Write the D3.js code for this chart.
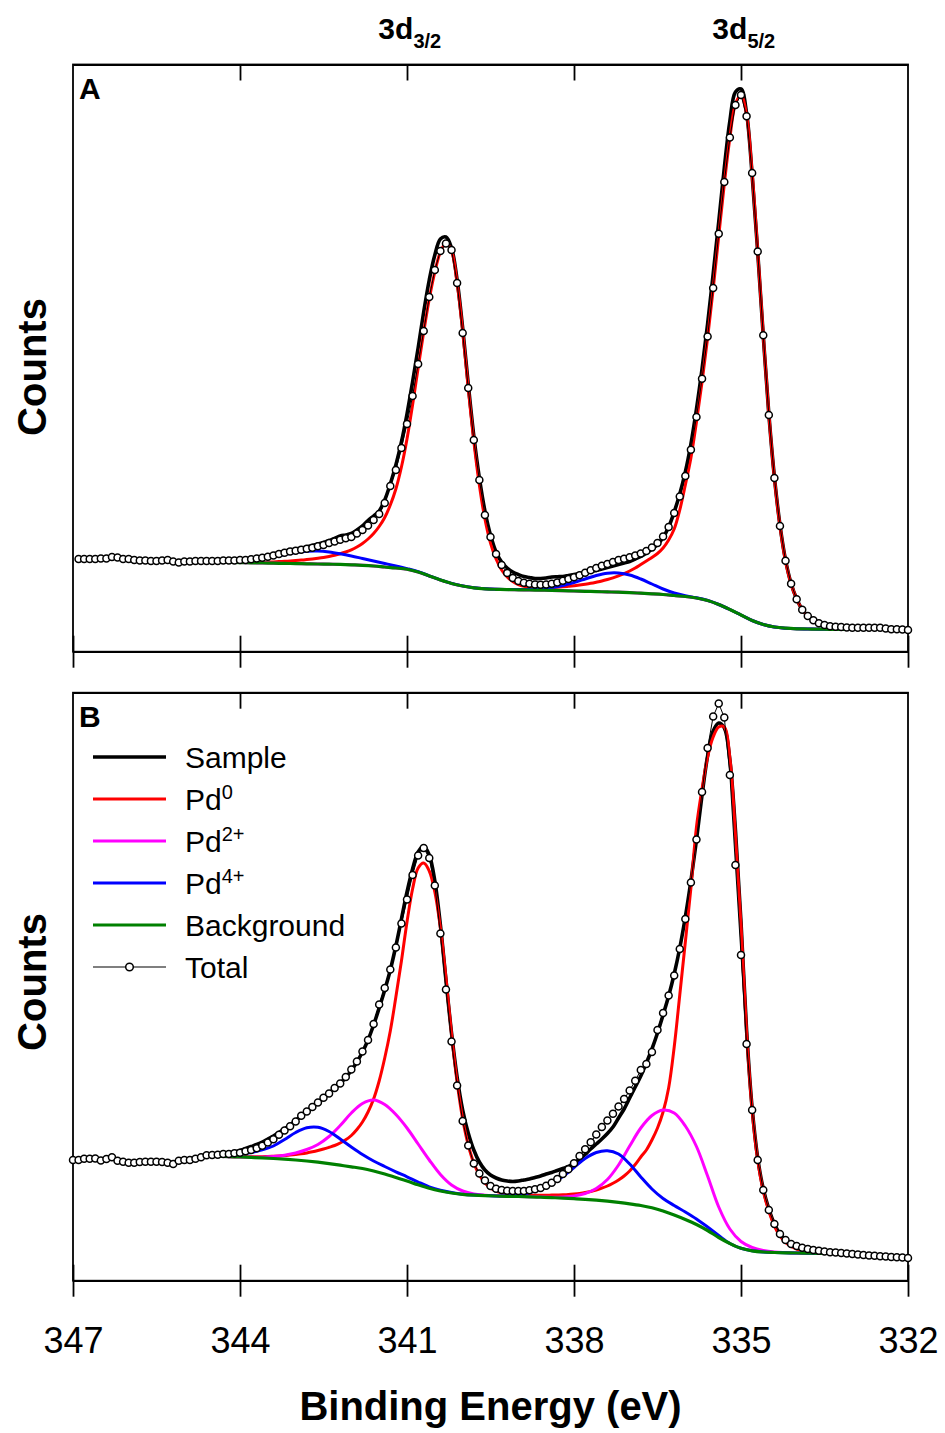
<!DOCTYPE html>
<html>
<head>
<meta charset="utf-8">
<script src="https://cdn.jsdelivr.net/npm/d3@7"></script>
<style>
body { margin: 0; background: #fff; }
svg { display: block; font-family: "Liberation Sans", Arial, sans-serif; }
</style>
</head>
<body>
<div id="chart"></div>
<script>
// binding energy grid of the scan (eV)
var energy = [
  347.0,346.9,346.8,346.7,346.6,346.5,346.4,346.3,346.2,346.1,
  346.0,345.9,345.8,345.7,345.6,345.5,345.4,345.3,345.2,345.1,
  345.0,344.9,344.8,344.7,344.6,344.5,344.4,344.3,344.2,344.1,
  344.0,343.9,343.8,343.7,343.6,343.5,343.4,343.3,343.2,343.1,
  343.0,342.9,342.8,342.7,342.6,342.5,342.4,342.3,342.2,342.1,
  342.0,341.9,341.8,341.7,341.6,341.5,341.4,341.3,341.2,341.1,
  341.0,340.9,340.8,340.7,340.6,340.5,340.4,340.3,340.2,340.1,
  340.0,339.9,339.8,339.7,339.6,339.5,339.4,339.3,339.2,339.1,
  339.0,338.9,338.8,338.7,338.6,338.5,338.4,338.3,338.2,338.1,
  338.0,337.9,337.8,337.7,337.6,337.5,337.4,337.3,337.2,337.1,
  337.0,336.9,336.8,336.7,336.6,336.5,336.4,336.3,336.2,336.1,
  336.0,335.9,335.8,335.7,335.6,335.5,335.4,335.3,335.2,335.1,
  335.0,334.9,334.8,334.7,334.6,334.5,334.4,334.3,334.2,334.1,
  334.0,333.9,333.8,333.7,333.6,333.5,333.4,333.3,333.2,333.1,
  333.0,332.9,332.8,332.7,332.6,332.5,332.4,332.3,332.2,332.1,
  332.0
];
// fitted window: 344.6 -> 333.0 eV, components at every second point
var energyFit = energy.filter(e => e <= 344.6 && e >= 333.0);
var energyCoarse = energyFit.filter((e, i) => i % 2 == 0);

var tickValues = [347, 344, 341, 338, 335, 332];
var innerTicks = [344, 341, 338, 335];
var yLimitsA = [483, 6355];
var yLimitsB = [193, 6073];

// ---- panel A (counts) ----
var totalA = [
  1410,1410,1410,1410,1415,1415,1430,1425,1410,
  1410,1400,1395,1395,1390,1390,1395,1400,1385,1375,
  1385,1385,1390,1390,1390,1390,1390,1395,1395,1395,
  1400,1400,1407,1415,1423,1432,1445,1460,1472,1485,
  1493,1503,1512,1522,1537,1550,1570,1585,1602,1617,
  1630,1665,1700,1745,1800,1860,1970,2140,2300,2520,
  2760,3040,3360,3690,4030,4300,4490,4565,4500,4170,
  3670,3120,2600,2200,1850,1630,1460,1350,1270,1220,
  1190,1173,1162,1155,1153,1155,1162,1175,1193,1210,
  1227,1247,1273,1297,1320,1342,1360,1380,1400,1413,
  1428,1444,1464,1490,1525,1570,1635,1730,1870,2035,
  2240,2502,2830,3212,3635,4120,4662,5180,5625,5950,
  6050,5837,5270,4485,3648,2850,2220,1740,1393,1162,
  1008,902,840,797,767,749,738,732,729,725,
  723,723,723,723,723,722,715,708,707,704,
  700
];
var sampleA = [
  1385,1385,1385,1385,1390,1395,
  1400,1405,1415,1425,1435,1445,1460,1475,1490,1500,
  1510,1520,1530,1545,1560,1575,1595,1615,1640,1650,
  1665,1700,1740,1795,1840,1890,2000,2160,2350,2580,
  2860,3180,3520,3880,4200,4450,4610,4630,4520,4200,
  3720,3160,2640,2220,1890,1650,1480,1380,1320,1280,
  1255,1235,1225,1215,1215,1220,1230,1233,1235,1245,
  1255,1265,1275,1285,1295,1310,1325,1340,1355,1370,
  1385,1410,1435,1470,1510,1555,1625,1730,1880,2060,
  2280,2560,2910,3310,3760,4260,4780,5320,5790,6080,
  6110,5870,5250,4480,3640,2860,2230,1750,1400,1165,
  1010,905,840,795,765,748,737,732,728,725,
  723
];
var pd0A = [
  1380,1379,1378,1377,1376,1375,
  1375,1375,1375,1376,1377,1379,1381,1384,1387,1390,
  1394,1399,1404,1410,1417,1425,1435,1447,1462,1480,
  1502,1530,1565,1610,1665,1735,1825,1950,2110,2330,
  2610,2950,3320,3680,4010,4280,4480,4570,4490,4170,
  3690,3120,2590,2150,1810,1570,1410,1300,1230,1185,
  1155,1137,1128,1123,1122,1123,1125,1128,1132,1137,
  1143,1150,1158,1167,1178,1190,1205,1222,1242,1265,
  1290,1320,1355,1390,1425,1465,1520,1600,1710,1900,
  2150,2420,2780,3180,3620,4110,4640,5160,5620,5960,
  6050,5850,5270,4490,3650,2860,2220,1740,1390,1160,
  1010,905,840,795,765,745,732,722,715,710,
  707
];
var pd4A = [
  1380,1378,1377,
  1380,1390,1410,1430,1455,1475,1488,1490,1480,1462,
  1440,1415,1390,1365,1340,1314,1284,1242,1201,1166,
  1141,1123,1113,1108,1106,1105,1105,1110,1125,1145,
  1175,1210,1245,1268,1270,1250,1210,1160,1110,1070,
  1042,1022,996,955,905,850,795,755,730,718,
  712,710,708,707,706,705
];
var bgA = [
  1380,1378,1376,
  1374,1372,1370,1368,1366,1364,1362,1360,1358,1356,
  1352,1347,1340,1330,1320,1307,1280,1240,1200,1165,
  1140,1122,1112,1107,1104,1102,1100,1098,1096,1093,
  1090,1087,1084,1081,1078,1074,1068,1062,1055,1045,
  1035,1020,995,955,905,850,795,755,730,718,
  712,710,708,707,706,705
];
// Pd2+ sits flat on the background in A
var pd2A = bgA;

// ---- panel B (counts) ----
var totalB = [
  1400,1400,1413,1413,1415,1395,1410,1427,1393,1383,
  1373,1373,1380,1383,1383,1383,1380,1373,1360,1393,
  1400,1400,1413,1427,1447,1450,1453,1460,1460,1467,
  1473,1487,1500,1518,1542,1575,1608,1652,1696,1738,
  1785,1842,1885,1930,1975,2022,2065,2120,2165,2230,
  2305,2385,2485,2600,2760,2955,3120,3305,3525,3765,
  4005,4250,4445,4520,4420,4145,3665,3105,2585,2145,
  1790,1545,1365,1265,1195,1140,1113,1100,1093,1090,
  1090,1090,1097,1107,1120,1143,1173,1210,1260,1307,
  1367,1440,1507,1577,1655,1730,1795,1863,1935,2010,
  2095,2193,2300,2360,2480,2700,2870,3045,3245,3510,
  3810,4175,4605,5080,5520,5835,5965,5825,5250,4350,
  3450,2560,1900,1400,1100,900,760,660,600,560,
  540,523,510,500,492,485,478,474,470,466,
  460,455,450,446,442,438,434,430,427,424,
  420
];
var sampleB = [
  1445,1450,1455,1460,1465,1480,
  1495,1515,1535,1555,1580,1610,1640,1675,1710,1750,
  1795,1840,1885,1930,1975,2020,2065,2115,2165,2225,
  2295,2380,2480,2600,2750,2920,3100,3300,3540,3810,
  4080,4310,4480,4540,4450,4190,3750,3200,2670,2230,
  1900,1670,1500,1380,1300,1250,1220,1200,1190,1185,
  1190,1200,1210,1225,1240,1260,1275,1295,1315,1335,
  1365,1405,1455,1510,1560,1610,1665,1730,1820,1910,
  2020,2130,2240,2370,2510,2670,2850,3040,3260,3520,
  3830,4190,4600,5050,5440,5690,5770,5720,5400,4700,
  3780,2700,1920,1420,1110,910,760,660,595,555,
  530,515,505,497,490,485,480,476,472,469,
  466
];
var pd0B = [
  1440,1438,1437,1435,1434,1433,
  1432,1432,1432,1432,1433,1435,1437,1440,1444,1449,
  1455,1462,1471,1482,1495,1510,1527,1545,1570,1602,
  1645,1705,1780,1880,2010,2190,2420,2690,3030,3390,
  3780,4110,4320,4370,4290,4080,3720,3220,2660,2180,
  1810,1550,1370,1250,1170,1120,1090,1073,1063,1056,
  1052,1050,1049,1048,1048,1048,1049,1050,1052,1055,
  1060,1066,1074,1085,1100,1118,1140,1168,1200,1240,
  1290,1355,1430,1500,1600,1720,1880,2120,2530,3050,
  3580,4120,4730,5110,5430,5630,5730,5730,5420,4650,
  3750,2680,1900,1400,1090,890,740,640,575,535,
  510,495,485,478,473,470,468,466,465,464,
  463
];
var pd2B = [
  1440,1437,1433,
  1430,1428,1428,1434,1448,1470,1505,1555,1635,1745,
  1870,1965,2000,1955,1855,1720,1560,1400,1255,1150,
  1090,1060,1048,1042,1038,1036,1033,1030,1028,1030,
  1040,1065,1115,1205,1350,1540,1720,1845,1900,1870,
  1740,1535,1240,930,710,585,525,495,480,474,
  470,468,466,465,464,463
];
var pd4B = [
  1440,1438,1442,
  1455,1475,1502,1540,1605,1675,1722,1727,1685,1610,
  1530,1455,1390,1335,1282,1232,1180,1132,1097,1074,
  1058,1049,1044,1041,1042,1050,1072,1115,1170,1235,
  1325,1415,1475,1493,1460,1360,1230,1110,1015,945,
  880,810,730,645,565,517,492,480,475,472,
  470,468,466,465,464,463
];
var bgB = [
  1440,1437,1433,
  1430,1426,1421,1415,1408,1400,1390,1378,1364,1348,
  1332,1315,1290,1260,1225,1190,1152,1117,1090,1070,
  1056,1048,1043,1040,1037,1035,1032,1028,1024,1019,
  1013,1006,998,988,976,962,945,922,890,850,
  805,755,695,625,565,517,492,480,475,472,
  470,468,466,465,464,463
];

var legendItems = [
  {key: "sample", name: "Sample", sup: ""},
  {key: "pd0", name: "Pd", sup: "0"},
  {key: "pd2", name: "Pd", sup: "2+"},
  {key: "pd4", name: "Pd", sup: "4+"},
  {key: "bg", name: "Background", sup: ""},
  {key: "total", name: "Total", sup: ""}
];
var colors = {sample: "#000000", pd0: "#ff0000", pd2: "#ff00ff", pd4: "#0000ff", bg: "#008000", total: "#000000"};
var widths = {sample: 3.6, pd0: 3, pd2: 3, pd4: 3, bg: 3.2, total: 1};

var width = 945, height = 1433;

var svg = d3.select("#chart").append("svg")
  .attr("width", width)
  .attr("height", height);

svg.append("rect").attr("width", width).attr("height", height).attr("fill", "#fff");

var xScale = d3.scaleLinear().domain([347, 332]).range([73, 908]);

// pairs values with the grid, counting back from its last point
function pairUp(xs, ys){
  var off = xs.length - ys.length;
  return ys.map((v, i) => [xs[off + i], v]);
}

var panels = [
  {label: "A", top: 64.5, bottom: 651.7, yLim: yLimitsA, countsAt: 367,
   total: pairUp(energy, totalA), sample: pairUp(energyFit, sampleA), pd0: pairUp(energyFit, pd0A),
   pd2: pairUp(energyCoarse, pd2A), pd4: pairUp(energyCoarse, pd4A), bg: pairUp(energyCoarse, bgA)},
  {label: "B", top: 692.7, bottom: 1280.7, yLim: yLimitsB, countsAt: 982,
   total: pairUp(energy, totalB), sample: pairUp(energyFit, sampleB), pd0: pairUp(energyFit, pd0B),
   pd2: pairUp(energyCoarse, pd2B), pd4: pairUp(energyCoarse, pd4B), bg: pairUp(energyCoarse, bgB)}
];

panels.forEach(function(p, pi){
  var yScale = d3.scaleLinear().domain(p.yLim).range([p.bottom, p.top]);
  var g = svg.append("g").attr("class", "panel");

  var smooth = d3.line()
    .x(d => xScale(d[0]))
    .y(d => yScale(d[1]))
    .curve(d3.curveCatmullRom);
  var straight = d3.line()
    .x(d => xScale(d[0]))
    .y(d => yScale(d[1]));

  // frame
  g.append("rect")
    .attr("x", xScale.range()[0]).attr("y", p.top)
    .attr("width", xScale.range()[1] - xScale.range()[0])
    .attr("height", p.bottom - p.top)
    .attr("fill", "none").attr("stroke", "#000").attr("stroke-width", 1.8);

  ["sample", "pd0", "pd2", "pd4", "bg"].forEach(function(k){
    g.append("path")
      .datum(p[k])
      .attr("class", "line " + k)
      .attr("fill", "none")
      .attr("stroke", colors[k])
      .attr("stroke-width", widths[k])
      .attr("stroke-linejoin", "round")
      .attr("d", smooth);
  });

  g.append("path")
    .datum(p.total)
    .attr("class", "line total")
    .attr("fill", "none")
    .attr("stroke", "#000")
    .attr("stroke-width", 1)
    .attr("d", straight);

  g.selectAll(".dotTotal")
    .data(p.total)
    .enter().append("circle")
    .attr("class", "dotTotal")
    .attr("cx", d => xScale(d[0]))
    .attr("cy", d => yScale(d[1]))
    .attr("r", 3.5)
    .attr("fill", "#fff")
    .attr("stroke", "#000")
    .attr("stroke-width", 1.5);

  // bottom axis: ticks cross the axis line
  var axDown = g.append("g")
    .attr("transform", "translate(0," + p.bottom + ")")
    .call(d3.axisBottom(xScale).tickValues(tickValues).tickSize(16).tickSizeOuter(0).tickPadding(31)
      .tickFormat(pi == 1 ? d3.format("d") : ""));
  var axUp = g.append("g")
    .attr("transform", "translate(0," + p.bottom + ")")
    .call(d3.axisTop(xScale).tickValues(tickValues).tickSize(16).tickSizeOuter(0).tickFormat(""));
  // top edge: short inward ticks
  var axTop = g.append("g")
    .attr("transform", "translate(0," + p.top + ")")
    .call(d3.axisBottom(xScale).tickValues(innerTicks).tickSize(16).tickSizeOuter(0).tickFormat(""));

  [axDown, axUp, axTop].forEach(function(a){
    a.selectAll("line").attr("stroke", "#000").attr("stroke-width", 1.8);
    a.select(".domain").attr("stroke", "#000").attr("stroke-width", 1.8);
    a.selectAll("text")
      .attr("fill", "#000")
      .style("font-family", "'Liberation Sans', Arial, sans-serif")
      .style("font-size", "36px");
  });

  g.append("text")
    .attr("x", 79).attr("y", p.top + 34)
    .style("font-weight", "bold").style("font-size", "30px")
    .text(p.label);

  g.append("text")
    .attr("transform", "translate(46," + p.countsAt + ") rotate(-90)")
    .attr("text-anchor", "middle")
    .style("font-weight", "bold").style("font-size", "40px")
    .text("Counts");
});

// peak labels over panel A
var peakLabels = [{main: "3d", sub: "3/2", at: 340.95}, {main: "3d", sub: "5/2", at: 334.95}];
peakLabels.forEach(function(l){
  var t = svg.append("text")
    .attr("x", xScale(l.at)).attr("y", 39)
    .attr("text-anchor", "middle")
    .style("font-weight", "bold").style("font-size", "30px");
  t.append("tspan").text(l.main);
  t.append("tspan").attr("dy", 9).style("font-size", "20px").text(l.sub);
});

svg.append("text")
  .attr("x", d3.mean(xScale.range())).attr("y", 1420)
  .attr("text-anchor", "middle")
  .style("font-weight", "bold").style("font-size", "40px")
  .text("Binding Energy (eV)");

// legend in panel B
var legend = svg.append("g").attr("class", "legend");
legendItems.forEach(function(item, i){
  var ly = 757 + i * 42;
  legend.append("line")
    .attr("x1", 93).attr("x2", 166).attr("y1", ly).attr("y2", ly)
    .attr("stroke", colors[item.key])
    .attr("stroke-width", item.key == "total" ? 1.2 : widths[item.key]);
  if (item.key == "total"){
    legend.append("circle").attr("cx", 129.5).attr("cy", ly).attr("r", 3.8)
      .attr("fill", "#fff").attr("stroke", "#000").attr("stroke-width", 1.5);
  }
  var t = legend.append("text")
    .attr("x", 185).attr("y", ly + 11)
    .style("font-size", "30px");
  t.append("tspan").text(item.name);
  if (item.sup != ""){
    t.append("tspan").attr("dy", -11).style("font-size", "20px").text(item.sup);
  }
});
</script>
</body>
</html>
